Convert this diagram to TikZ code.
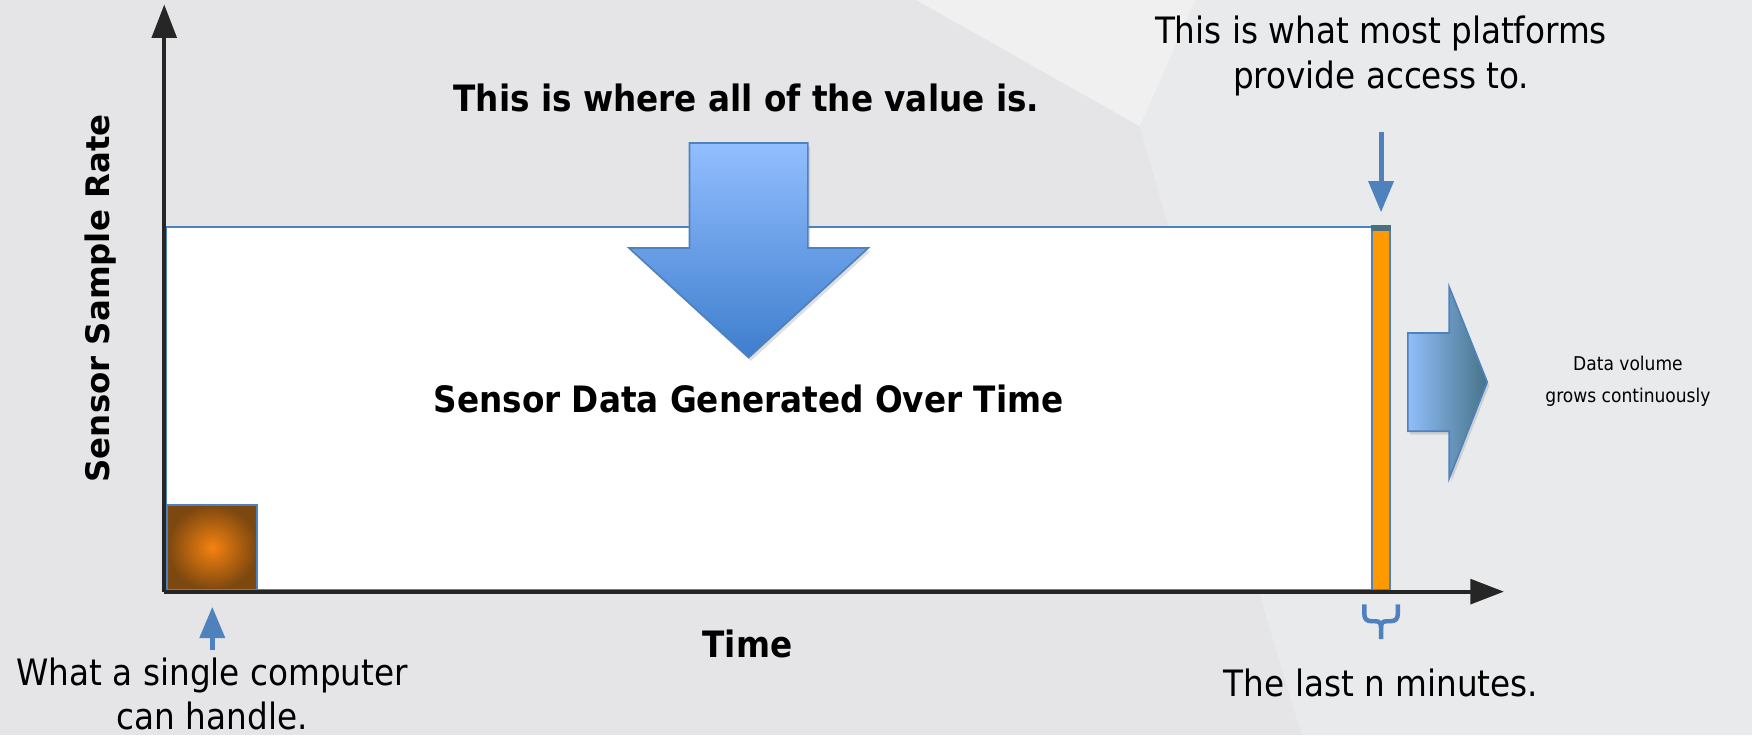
\documentclass[tikz,border=0pt]{standalone}
\usepackage{fontspec}
\setmainfont{DejaVu Sans Condensed}
\newfontfamily\widefont{DejaVu Sans}
\usetikzlibrary{arrows.meta,shadows}

\definecolor{bggray}{RGB}{229,229,231}
\definecolor{bglight}{RGB}{240,240,241}
\definecolor{bgmid}{RGB}{233,234,236}
\definecolor{axisgray}{RGB}{38,38,38}
\definecolor{blueline}{RGB}{79,129,189}
\definecolor{barorange}{RGB}{255,153,0}
\definecolor{barcap}{RGB}{74,112,128}
\definecolor{arrowtop}{RGB}{146,190,255}
\definecolor{arrowbottom}{RGB}{62,126,205}
\definecolor{growleft}{RGB}{145,190,250}
\definecolor{growright}{RGB}{70,115,135}
\definecolor{sqinner}{RGB}{245,130,15}
\definecolor{sqouter}{RGB}{125,72,15}

\begin{document}
\begin{tikzpicture}[x=1pt,y=-1pt,
  axis/.style={line width=3.6pt,color=axisgray,-{Triangle[length=30pt,width=22pt]}},
  pointer/.style={line width=4.5pt,color=blueline,-{Triangle[length=28pt,width=22pt]}},
  label/.style={font=\fontsize{32.5}{40}\selectfont,align=center,inner sep=0pt},
  boldlabel/.style={font=\fontsize{32.5}{40}\selectfont\bfseries,inner sep=0pt},
  smalllabel/.style={font=\fontsize{17}{29}\selectfont,align=center,inner sep=0pt},
  blockshadow/.style={drop shadow={opacity=0.25,shadow xshift=2pt,shadow yshift=-3pt}}]
\useasboundingbox (0,0) rectangle (1568,658);

% background
\fill[bggray] (0,0) rectangle (1568,658);
\fill[bgmid] (1070,0) -- (1568,0) -- (1568,658) -- (1165,658) -- (1130,541) -- (1045,200) -- (1020,113) -- cycle;
\fill[bglight] (820,0) -- (1070,0) -- (1020,113) -- cycle;

% chart area
\path[fill=white,draw=blueline,line width=1.5pt,blockshadow] (149,203) rectangle (1228,528);
\shade[inner color=sqinner,outer color=sqouter] (150,452) rectangle (230,528);
\draw[blueline,line width=1.5pt] (150,452) rectangle (230,528);
\filldraw[fill=barorange,draw=blueline,line width=1.5pt] (1228,203) rectangle (1244,528);
\fill[barcap] (1227,201) rectangle (1245,207);

% axes
\coordinate (O) at (147,529.5);
\coordinate (ytip) at (147,4);
\coordinate (xtip) at (1346,529.5);
\draw[axis] (O) -- (ytip);
\draw[axis] (O) -- (xtip);

% block arrows
\path[top color=arrowtop,bottom color=arrowbottom,draw=blueline,line width=1.5pt,blockshadow]
  (617,128) -- (723,128) -- (723,222) -- (777,222) -- (670,320) -- (563,222) -- (617,222) -- cycle;
\path[left color=growleft,right color=growright,draw=blueline,line width=1.5pt,blockshadow]
  (1260,298) -- (1297,298) -- (1297,257) -- (1331,342) -- (1297,428) -- (1297,386) -- (1260,386) -- cycle;

% labels
\node[boldlabel] (value) at (668,88) {This is where all of the value is.};
\node[boldlabel] (data) at (670,357) {Sensor Data Generated Over Time};
\node[inner sep=0pt,rotate=90,font=\widefont\fontsize{29}{36}\selectfont\bfseries] (rate) at (90,267) {Sensor Sample Rate};
\node[boldlabel] (time) at (669,576) {Time};
\node[label] (platforms) at (1236,50) {This is what most platforms\\provide access to.};
\node[label] (single) at (190,621) {What a single computer\\can handle.};
\node[label] (last) at (1236,611) {The last n minutes.};
\node[smalllabel] (grows) at (1457,341) {Data volume\\grows continuously};

% pointers
\coordinate (platfrom) at (1236,118);
\coordinate (platto) at (1236,190);
\draw[pointer] (platfrom) -- (platto);
\coordinate (singlefrom) at (190,582);
\coordinate (singleto) at (190,543);
\draw[pointer] (singlefrom) -- (singleto);

% brace
\draw[blueline,line width=4pt] (1221,541) -- (1221,549) .. controls (1221,554) and (1223,556) .. (1228,556) -- (1231,556)
  .. controls (1235,556) and (1236,558) .. (1236,562) -- (1236,572);
\draw[blueline,line width=4pt] (1251,541) -- (1251,549) .. controls (1251,554) and (1249,556) .. (1244,556) -- (1241,556)
  .. controls (1237,556) and (1236,558) .. (1236,562);
\end{tikzpicture}
\end{document}
